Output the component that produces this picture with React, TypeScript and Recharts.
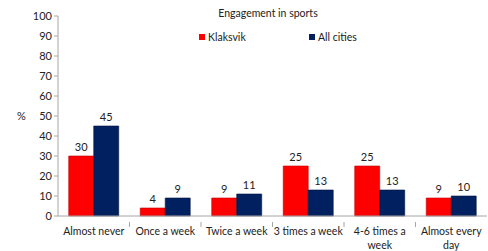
import React from 'react';
import { BarChart, Bar, XAxis, YAxis, LabelList, Label, Legend } from 'recharts';

const categories = ['Almost never', 'Once a week', 'Twice a week', '3 times a week', '4-6 times a week', 'Almost every day'];
const tickLines: string[][] = [['Almost never'], ['Once a week'], ['Twice a week'], ['3 times a week'], ['4-6 times a', 'week'], ['Almost every', 'day']];
const klaksvik = [30, 4, 9, 25, 25, 9];
const allCities = [45, 9, 11, 13, 13, 10];
const yTicks = [0, 10, 20, 30, 40, 50, 60, 70, 80, 90, 100];
const seriesNames = ['Klaksvik', 'All cities'];
const colors = ['#FF0000', '#002060'];
const strokes = ['#C00000', '#001540'];

const data = categories.map((c, i) => ({ name: c, k: klaksvik[i], a: allCities[i] }));

const W = 488;
const H = 251;
const M = { top: 16, right: 1, left: 0, bottom: 0 };
const YW = 58;
const XH = 35;
const band = (W - M.left - M.right - YW) / categories.length;
const FONT = 'Lato, "Open Sans", sans-serif';

const XTick = (props: any) => {
  const { x, y, payload, index } = props;
  const lines = tickLines[index] || [payload.value];
  return (
    <g>
      {index < categories.length - 1 && (
        <line x1={x + band / 2} x2={x + band / 2} y1={y - 2} y2={y + 3} stroke="#A6A6A6" />
      )}
      {lines.map((l, i) => (
        <text key={i} x={x} y={y + 11 + i * 14} textAnchor="middle" fontSize={10.5} fill="#222" fontFamily={FONT}>
          {l}
        </text>
      ))}
    </g>
  );
};

const LegendContent = () => (
  <div style={{ position: 'relative', width: 200, height: 14, fontFamily: FONT, fontSize: 10.5, color: '#222' }}>
    {seriesNames.map((n, i) => (
      <div key={n} style={{ position: 'absolute', left: i * 110, top: 0, display: 'flex', alignItems: 'center' }}>
        <span style={{ display: 'inline-block', width: 6, height: 6, background: colors[i], marginRight: 3 }} />
        <span>{n}</span>
      </div>
    ))}
  </div>
);

export default function App() {
  return (
    <div style={{ position: 'absolute', left: 0, top: 0, width: W, height: H, background: '#fff' }}>
      <div style={{ position: 'absolute', left: 0, top: 7, width: W, textAlign: 'center', fontFamily: FONT, fontSize: 10.5, color: '#222', paddingLeft: 48, boxSizing: 'border-box' }}>
        Engagement in sports
      </div>
      <BarChart width={W} height={H} data={data} margin={M} barCategoryGap="15%" barGap={0}>
        <YAxis
          width={YW}
          domain={[0, 100]}
          ticks={yTicks}
          interval={0}
          axisLine={{ stroke: '#A6A6A6' }}
          tickLine={{ stroke: '#A6A6A6' }}
          tickSize={4}
          tick={{ fontSize: 11, fill: '#222', fontFamily: FONT }}
        >
          <Label value="%" position="insideLeft" offset={17} style={{ fontSize: 11, fill: '#222', fontFamily: FONT }} />
        </YAxis>
        <XAxis
          dataKey="name"
          height={XH}
          interval={0}
          axisLine={{ stroke: '#A6A6A6' }}
          tickLine={false}
          tick={<XTick />}
        />
        <Legend
          layout="vertical"
          verticalAlign="middle"
          align="center"
          content={<LegendContent />}
          wrapperStyle={{ position: 'absolute', left: 199, top: 31, width: 200 }}
        />
        <Bar dataKey="k" name={seriesNames[0]} fill={colors[0]} stroke={strokes[0]} strokeWidth={0.6} isAnimationActive={false}>
          <LabelList dataKey="k" position="top" offset={5} style={{ fontSize: 11, fill: '#222', fontFamily: FONT }} />
        </Bar>
        <Bar dataKey="a" name={seriesNames[1]} fill={colors[1]} stroke={strokes[1]} strokeWidth={0.6} isAnimationActive={false}>
          <LabelList dataKey="a" position="top" offset={5} style={{ fontSize: 11, fill: '#222', fontFamily: FONT }} />
        </Bar>
      </BarChart>
    </div>
  );
}
